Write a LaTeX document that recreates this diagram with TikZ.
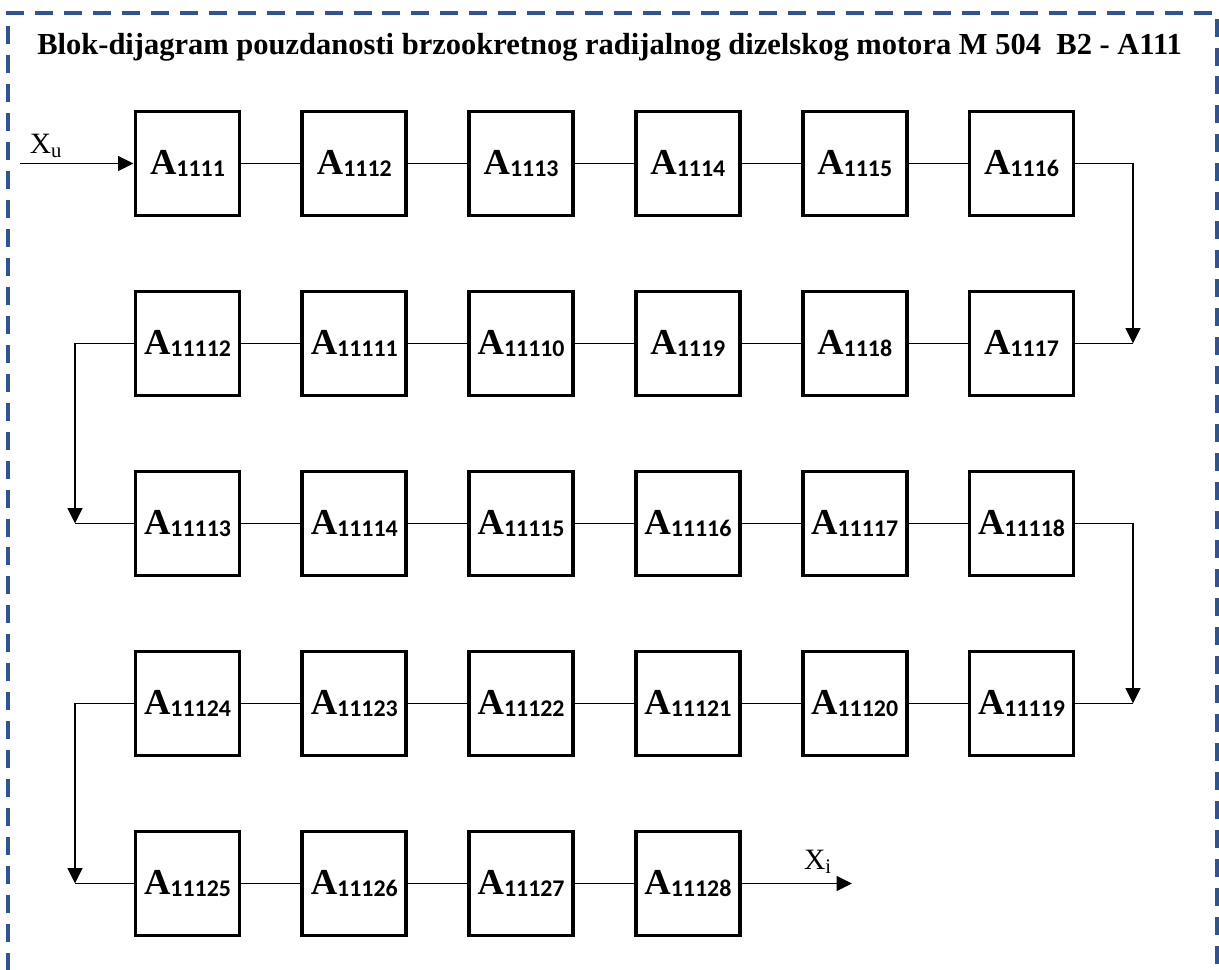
\documentclass[tikz,border=0pt]{standalone}
\usepackage{fontspec}
\setmainfont{Liberation Serif}
\newfontfamily\subfont{Carlito}
\usetikzlibrary{arrows.meta,positioning}
\definecolor{frameblue}{HTML}{2F5496}

% block label: serif A with a sans subscript
\newcommand{\blk}[1]{{\fontsize{26}{26}\selectfont\bfseries A}\raisebox{-2pt}{\subfont\bfseries\fontsize{17}{17}\selectfont #1}}

\begin{document}
\begin{tikzpicture}[x=0.025cm,y=-0.025cm,
  blok/.style={draw,line width=2.8pt,minimum width=2.6cm,minimum height=2.6cm,inner sep=0pt},
  veza/.style={line width=1.4pt},
  strelica/.style={line width=1.4pt,-{Triangle[length=11pt,width=10.5pt]}},
  okvir/.style={frameblue,line width=2.8pt,dash pattern=on 12.8pt off 7.8pt}]

  \useasboundingbox (0,0) rectangle (1219,969);

  % ---- Frame and title ----------------------------------------
  \draw[okvir] (8,1000) -- (8,13) -- (1217,13) -- (1217,1000);
  \node[anchor=base west,font=\fontsize{21.7}{21.7}\selectfont\bfseries,inner sep=0pt] (naslov) at (37,54)
    {Blok-dijagram pouzdanosti brzookretnog radijalnog dizelskog motora M 504~~B2 - A111};

  % ---- Row 1 (left to right) ----------------------------------
  \node[blok] (a1111) at (187.5,163.5) {\blk{1111}};
  \node[blok] (a1112) at (354.3,163.5) {\blk{1112}};
  \node[blok] (a1113) at (521.1,163.5) {\blk{1113}};
  \node[blok] (a1114) at (687.9,163.5) {\blk{1114}};
  \node[blok] (a1115) at (854.7,163.5) {\blk{1115}};
  \node[blok] (a1116) at (1021.5,163.5) {\blk{1116}};

  % ---- Row 2 (right to left) ----------------------------------
  \node[blok] (a1117) at (1021.5,343.5) {\blk{1117}};
  \node[blok] (a1118) at (854.7,343.5) {\blk{1118}};
  \node[blok] (a1119) at (687.9,343.5) {\blk{1119}};
  \node[blok] (a11110) at (521.1,343.5) {\blk{11110}};
  \node[blok] (a11111) at (354.3,343.5) {\blk{11111}};
  \node[blok] (a11112) at (187.5,343.5) {\blk{11112}};

  % ---- Row 3 (left to right) ----------------------------------
  \node[blok] (a11113) at (187.5,523.5) {\blk{11113}};
  \node[blok] (a11114) at (354.3,523.5) {\blk{11114}};
  \node[blok] (a11115) at (521.1,523.5) {\blk{11115}};
  \node[blok] (a11116) at (687.9,523.5) {\blk{11116}};
  \node[blok] (a11117) at (854.7,523.5) {\blk{11117}};
  \node[blok] (a11118) at (1021.5,523.5) {\blk{11118}};

  % ---- Row 4 (right to left) ----------------------------------
  \node[blok] (a11119) at (1021.5,703.5) {\blk{11119}};
  \node[blok] (a11120) at (854.7,703.5) {\blk{11120}};
  \node[blok] (a11121) at (687.9,703.5) {\blk{11121}};
  \node[blok] (a11122) at (521.1,703.5) {\blk{11122}};
  \node[blok] (a11123) at (354.3,703.5) {\blk{11123}};
  \node[blok] (a11124) at (187.5,703.5) {\blk{11124}};

  % ---- Row 5 (left to right) ----------------------------------
  \node[blok] (a11125) at (187.5,883.5) {\blk{11125}};
  \node[blok] (a11126) at (354.3,883.5) {\blk{11126}};
  \node[blok] (a11127) at (521.1,883.5) {\blk{11127}};
  \node[blok] (a11128) at (687.9,883.5) {\blk{11128}};

  % ---- Turning points, input and output -----------------------
  \coordinate (ulaz) at (20,163.5);
  \coordinate (izlaz) at (852,883.5);
  \coordinate (d1) at (1133,343.5);
  \coordinate (l1) at (75,523.5);
  \coordinate (d2) at (1133,703.5);
  \coordinate (l2) at (75,883.5);

  \node[font=\fontsize{21}{21}\selectfont,inner sep=0pt] (xu) at (46,146) {X\textsubscript{u}};
  \node[font=\fontsize{21}{21}\selectfont,inner sep=0pt] (xi) at (818,862) {X\textsubscript{i}};

  % ---- Connectors ---------------------------------------------
  \draw[strelica] (ulaz) -- (a1111.west);
  \draw[veza] (a1111) -- (a1112) -- (a1113) -- (a1114) -- (a1115) -- (a1116);
  \draw[strelica] (a1116.east) -| (d1);
  \draw[veza] (a1117.east) -- (d1);
  \draw[veza] (a1117) -- (a1118) -- (a1119) -- (a11110) -- (a11111) -- (a11112);
  \draw[strelica] (a11112.west) -| (l1);
  \draw[veza] (a11113.west) -- (l1);
  \draw[veza] (a11113) -- (a11114) -- (a11115) -- (a11116) -- (a11117) -- (a11118);
  \draw[strelica] (a11118.east) -| (d2);
  \draw[veza] (a11119.east) -- (d2);
  \draw[veza] (a11119) -- (a11120) -- (a11121) -- (a11122) -- (a11123) -- (a11124);
  \draw[strelica] (a11124.west) -| (l2);
  \draw[veza] (a11125.west) -- (l2);
  \draw[veza] (a11125) -- (a11126) -- (a11127) -- (a11128);
  \draw[strelica] (a11128.east) -- (izlaz);

\end{tikzpicture}
\end{document}
